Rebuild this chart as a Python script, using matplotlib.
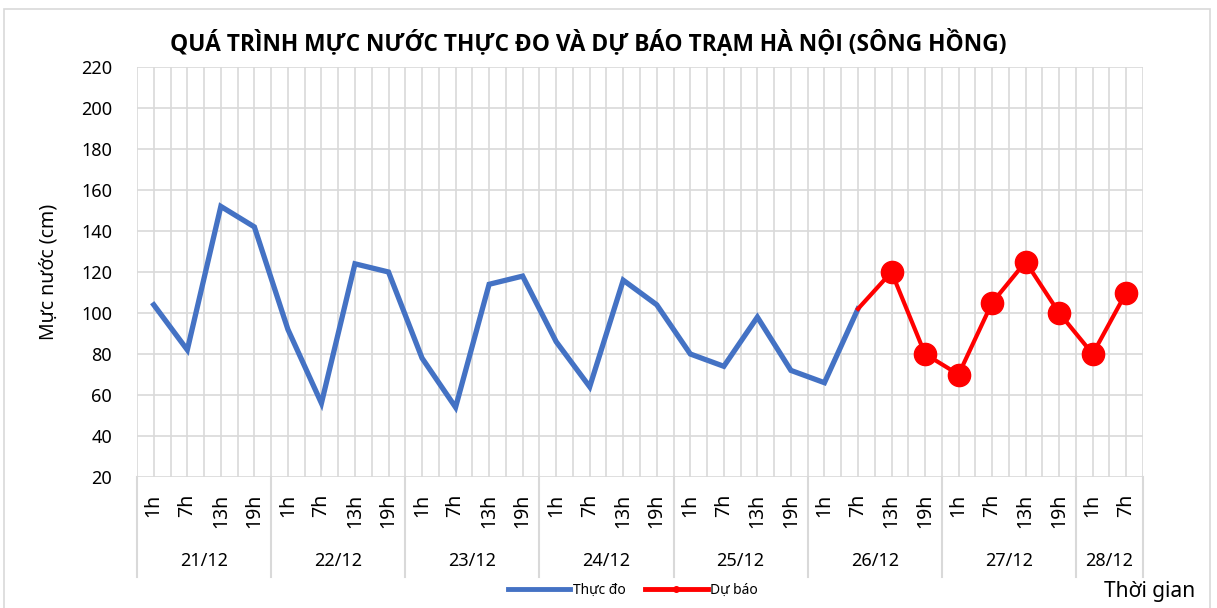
import matplotlib.pyplot as plt
from matplotlib.lines import Line2D
from matplotlib.patches import Rectangle

plt.rcParams["font.family"] = ["Noto Sans", "DejaVu Sans"]

days = ["21/12", "22/12", "23/12", "24/12", "25/12", "26/12", "27/12", "28/12"]
hours_per_day = [4, 4, 4, 4, 4, 4, 4, 2]
hour_labels = ["1h", "7h", "13h", "19h"]

observed = [
    104, 82, 152, 142,
    92, 56, 124, 120,
    78, 54, 114, 118,
    86, 64, 116, 104,
    80, 74, 98, 72,
    66, 102,
]

forecast_start = 21
forecast = [102, 120, 80, 70, 105, 125, 100, 80, 110]

y_ticks = list(range(20, 221, 20))

BLUE = "#4472C4"
RED = "#FF0000"
GRID = "#D9D9D9"


def create_chart():
    fig = plt.figure(figsize=(12.17, 6.08), dpi=100)
    fig.patches.append(Rectangle(
        (4 / 1217, -0.01), 1206 / 1217, 0.995,
        transform=fig.transFigure, fill=False,
        edgecolor=GRID, linewidth=1.2
    ))

    ax = fig.add_axes([137 / 1217, 1 - 477 / 608, 1006 / 1217, 410 / 608])

    tick_labels = []
    for day, count in zip(days, hours_per_day):
        tick_labels.extend(hour_labels[:count])
    n = len(tick_labels)

    ax.plot(range(len(observed)), observed, color=BLUE,
            linewidth=3.8, solid_joinstyle="miter", zorder=3)

    forecast_x = list(range(forecast_start, forecast_start + len(forecast)))
    ax.plot(forecast_x, forecast, color=RED, linewidth=3,
            marker="o", markersize=16, markevery=list(range(1, len(forecast))),
            zorder=4)

    ax.set_xlim(-0.5, n - 0.5)
    ax.set_ylim(20, 220)
    ax.set_yticks(y_ticks)
    ax.set_xticks(range(n))
    ax.set_xticklabels(tick_labels, rotation=90, fontsize=14)
    ax.tick_params(axis="both", length=0)
    ax.tick_params(axis="y", labelsize=13, pad=18)
    ax.tick_params(axis="x", pad=12)

    for v in y_ticks:
        ax.axhline(v, color=GRID, linewidth=1.2, zorder=1)
    for i in range(2 * n + 1):
        ax.axvline(-0.5 + i * 0.5, color=GRID, linewidth=1.2, zorder=1)
    for spine in ax.spines.values():
        spine.set_visible(False)

    trans = ax.get_xaxis_transform()
    start = -0.5
    for day, count in zip(days, hours_per_day):
        ax.plot([start, start], [0, -0.245], color=GRID, linewidth=1.5,
                transform=trans, clip_on=False)
        ax.text(start + count / 2, -0.205, day, transform=trans,
                ha="center", va="center", fontsize=13)
        start += count
    ax.plot([start, start], [0, -0.245], color=GRID, linewidth=1.5,
            transform=trans, clip_on=False)

    ax.set_ylabel("Mực nước (cm)", fontsize=14, labelpad=16)

    fig.text(588 / 1217, 1 - 43 / 608,
             "QUÁ TRÌNH MỰC NƯỚC THỰC ĐO VÀ DỰ BÁO TRẠM HÀ NỘI (SÔNG HỒNG)",
             ha="center", va="center", fontsize=16.4, fontweight="bold",
             family=["Open Sans", "DejaVu Sans"])

    fig.text(1195 / 1217, 1 - 591 / 608, "Thời gian",
             ha="right", va="center", fontsize=15)

    handles = [
        Line2D([], [], color=BLUE, linewidth=3.5),
        Line2D([], [], color=RED, linewidth=3.5, marker="o", markersize=4),
    ]
    fig.legend(handles, ["Thực đo", "Dự báo"], loc="center",
               bbox_to_anchor=(633 / 1217, 1 - 590 / 608), ncol=2,
               frameon=False, fontsize=10, handlelength=4.5,
               handletextpad=0.2, columnspacing=1.4)

    fig.savefig("out.png", dpi=100)
    plt.close(fig)


if __name__ == "__main__":
    create_chart()
